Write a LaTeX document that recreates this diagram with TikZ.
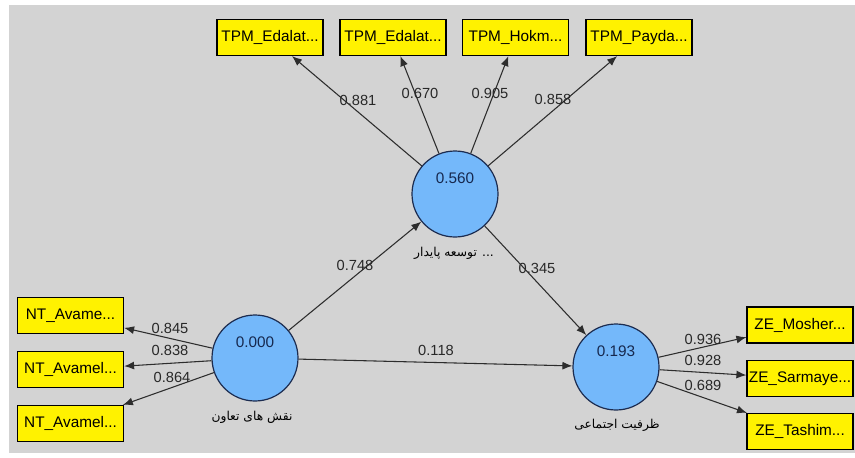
\documentclass[tikz,border=0pt]{standalone}
\usepackage{fontspec}
\setmainfont{Liberation Sans}
\newfontfamily\farsifont[Script=Arabic]{DejaVu Sans}
\TeXXeTstate=1
\usetikzlibrary{arrows.meta}
\definecolor{canvas}{RGB}{211,211,211}
\definecolor{lvfill}{RGB}{116,184,250}
\definecolor{lvdraw}{RGB}{28,44,80}
\definecolor{lvtext}{RGB}{22,40,78}
\definecolor{edgecol}{RGB}{45,45,45}
\definecolor{numcol}{RGB}{40,40,40}
\tikzset{
  latent/.style={circle, draw=lvdraw, fill=lvfill, line width=0.9pt,
    minimum size=64.5pt, inner sep=0pt},
  lvvalue/.style={text=lvtext, font=\fontsize{11.5}{12}\selectfont},
  indicator/.style={rectangle, draw=black, fill=yellow, line width=0.9pt,
    minimum width=79.5pt, minimum height=27pt, inner sep=0pt,
    font=\fontsize{11.5}{12}\selectfont},
  loading/.style={draw=edgecol, line width=0.8pt,
    -{Latex[length=7.5pt,width=6pt]}},
  coef/.style={text=numcol, font=\fontsize{11}{12}\selectfont, inner sep=0pt},
  lvname/.style={text=black, font=\farsifont\fontsize{9.2}{10}\selectfont, inner sep=0pt}
}
\begin{document}
\begin{tikzpicture}[x=0.75pt,y=-0.75pt]
\useasboundingbox (0,0) rectangle (855,457);
\fill[white] (0,0) rectangle (855,457);
\fill[canvas] (9,5) rectangle (855,453);

% latent variables
\node[latent] (tp) at (455,194) {};
\node[latent] (nt) at (255,358) {};
\node[latent] (ze) at (616,367) {};
\node[lvvalue] at (455,178) {0.560};
\node[lvvalue] at (255,342) {0.000};
\node[lvvalue] at (616,351) {0.193};
\node[lvname] (tpname) at (454,253) {\beginR ... توسعه پایدار\endR};
\node[lvname] (ntname) at (252,417) {\beginR نقش های تعاون\endR};
\node[lvname] (zename) at (617,425) {\beginR ظرفیت اجتماعی\endR};

% indicators of the top construct
\node[indicator] (t1) at (270,37.5) {TPM\_Edalat...};
\node[indicator] (t2) at (393,37.5) {TPM\_Edalat...};
\node[indicator] (t3) at (515.5,37.5) {TPM\_Hokm...};
\node[indicator] (t4) at (639,37.5) {TPM\_Payda...};

% indicators on the left
\node[indicator] (n1) at (70.5,315.5) {NT\_Avame...};
\node[indicator] (n2) at (70.5,369.5) {NT\_Avamel...};
\node[indicator] (n3) at (70.5,423.5) {NT\_Avamel...};

% indicators on the right
\node[indicator] (z1) at (800,325) {ZE\_Mosher...};
\node[indicator] (z2) at (800,378.5) {ZE\_Sarmaye...};
\node[indicator] (z3) at (800,431.5) {ZE\_Tashim...};

% outer loadings
\draw[loading] (tp) -- (t1);
\draw[loading] (tp) -- (t2);
\draw[loading] (tp) -- (t3);
\draw[loading] (tp) -- (t4);
\draw[loading] (nt) -- (n1);
\draw[loading] (nt) -- (n2);
\draw[loading] (nt) -- (n3);
\draw[loading] (ze) -- (z1);
\draw[loading] (ze) -- (z2);
\draw[loading] (ze) -- (z3);

% path coefficients
\draw[loading] (nt) -- (tp);
\draw[loading] (nt) -- (ze);
\draw[loading] (tp) -- (ze);

% coefficient labels
\node[coef] at (358,100) {0.881};
\node[coef] at (420,93) {0.670};
\node[coef] at (490,93) {0.905};
\node[coef] at (553,99) {0.858};
\node[coef] at (170,328) {0.845};
\node[coef] at (170,350) {0.838};
\node[coef] at (172,377) {0.864};
\node[coef] at (703,339) {0.936};
\node[coef] at (703,360) {0.928};
\node[coef] at (703,385) {0.689};
\node[coef] at (355,265) {0.748};
\node[coef] at (537,268) {0.345};
\node[coef] at (436,350) {0.118};
\end{tikzpicture}
\end{document}
